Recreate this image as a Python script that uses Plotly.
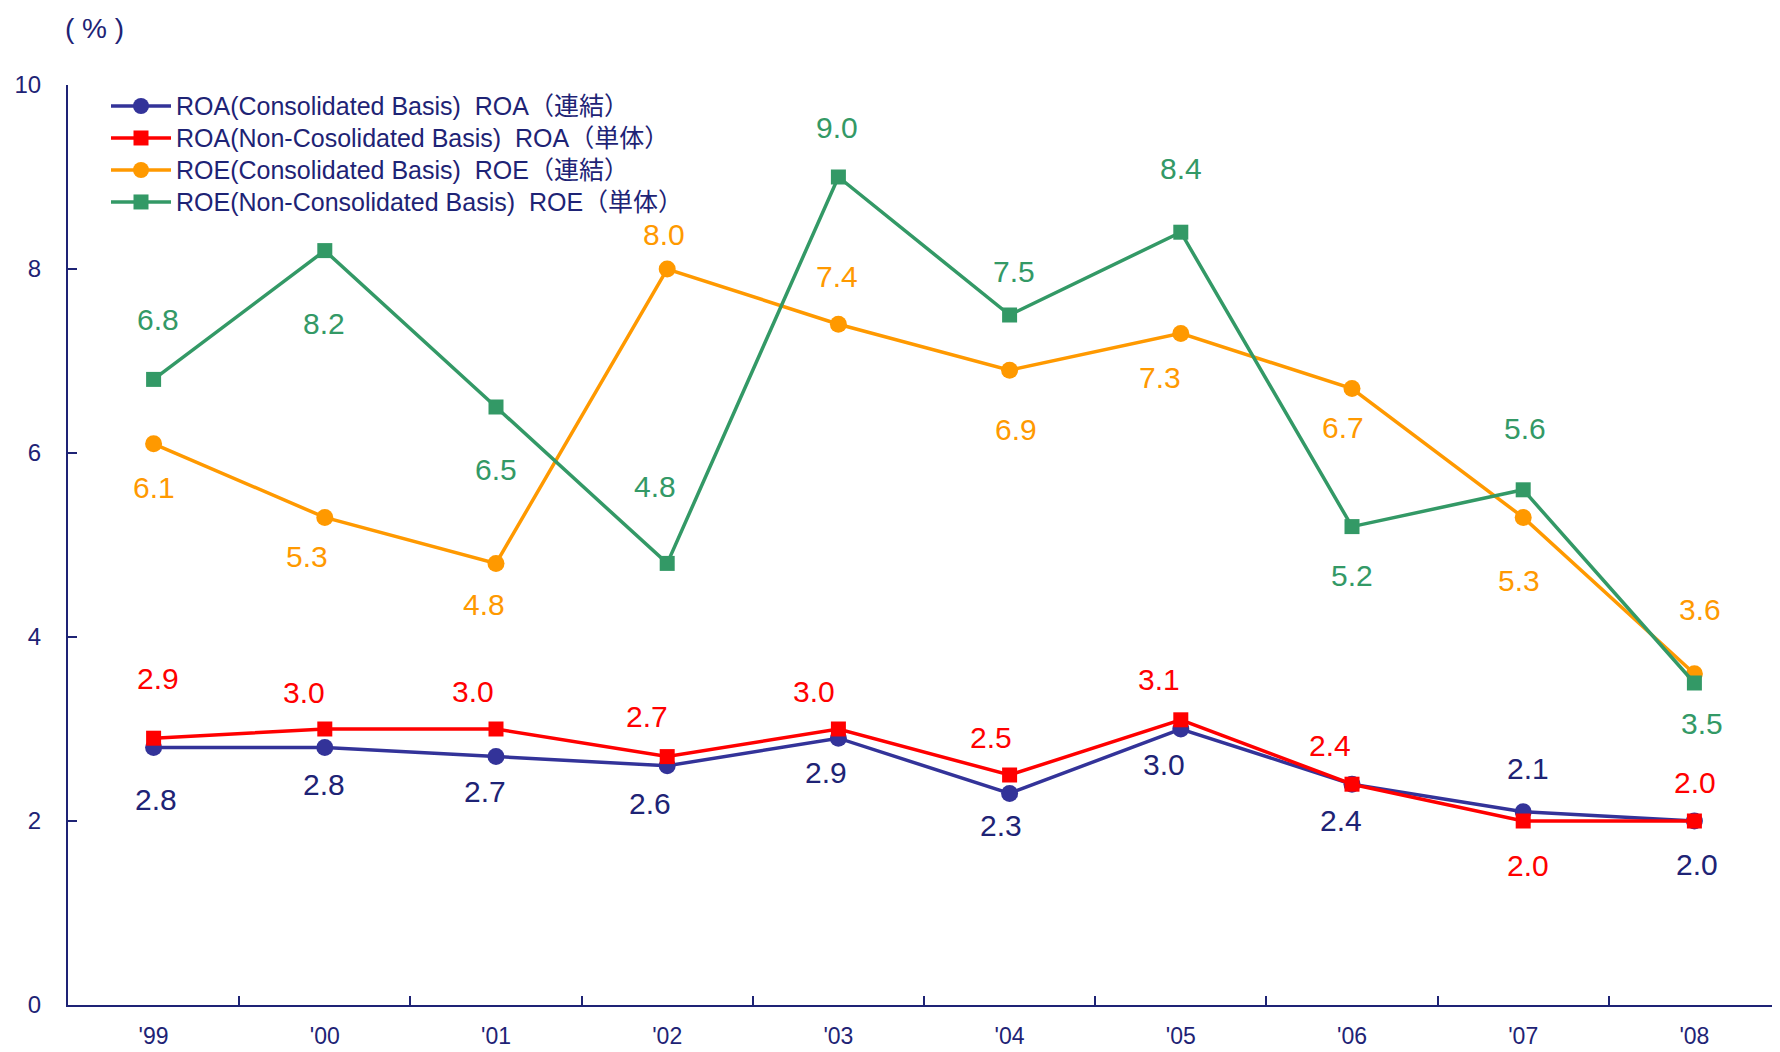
import plotly.graph_objects as go

years = ["'99", "'00", "'01", "'02", "'03", "'04", "'05", "'06", "'07", "'08"]

roa_consolidated = [2.8, 2.8, 2.7, 2.6, 2.9, 2.3, 3.0, 2.4, 2.1, 2.0]
roa_non_consolidated = [2.9, 3.0, 3.0, 2.7, 3.0, 2.5, 3.1, 2.4, 2.0, 2.0]
roe_consolidated = [6.1, 5.3, 4.8, 8.0, 7.4, 6.9, 7.3, 6.7, 5.3, 3.6]
roe_non_consolidated = [6.8, 8.2, 6.5, 4.8, 9.0, 7.5, 8.4, 5.2, 5.6, 3.5]

series_names = [
    "ROA(Consolidated Basis)\u00a0\u00a0ROA（連結）",
    "ROA(Non-Cosolidated Basis)\u00a0\u00a0ROA（単体）",
    "ROE(Consolidated Basis)\u00a0\u00a0ROE（連結）",
    "ROE(Non-Consolidated Basis)\u00a0\u00a0ROE（単体）",
]
unit_label = "( % )"

# styles
colors = ["#333399", "#FF0000", "#FF9900", "#339966"]
symbols = ["circle", "square", "circle", "square"]
marker_sizes = [17, 15, 17, 15]
TEXT = "#1E2375"
FONT = "Liberation Sans, Arial, Noto Sans CJK JP, sans-serif"

# page offset of the plot div (default body margin) and target plot-area box in page px
OFF = 8
W, H = 1780 - OFF, 1052 - OFF
PL, PR, PT, PB = 68, 1780, 85, 1005

# label pixel offsets (dx, dy) relative to each point, screen px (dy positive = up)
label_dx = [
    [2, -1, -11, -17, -12, -9, -17, -11, 5, 3],
    [4, -21, -23, -20, -24, -19, -22, -22, 5, 1],
    [0, -18, -12, -3, -1, 6, -21, -9, -4, 6],
    [4, -1, 0, -12, -1, 4, 0, 0, 2, 8],
]
label_dy = [
    [-52, -37, -35, -38, -34, -32, -35, -36, 43, -43],
    [60, 37, 38, 40, 38, 38, 40, 39, -44, 39],
    [-44, -39, -41, 35, 48, -59, -44, -39, -63, 64],
    [60, -73, -62, 77, 50, 44, 64, -49, 61, -40],
]

all_series = [roa_consolidated, roa_non_consolidated, roe_consolidated, roe_non_consolidated]

fig = go.Figure()
xs = list(range(len(years)))
for s, vals in enumerate(all_series):
    fig.add_trace(go.Scatter(
        x=xs, y=vals, mode="lines+markers",
        name='<span style="font-size:25px">' + series_names[s] + "</span>",
        line=dict(color=colors[s], width=3.5),
        marker=dict(symbol=symbols[s], size=marker_sizes[s], color=colors[s]),
    ))

annotations = []
for s, vals in enumerate(all_series):
    for i, v in enumerate(vals):
        annotations.append(dict(
            x=xs[i], y=v, xref="x", yref="y", text=f"{v:.1f}", showarrow=False,
            xshift=label_dx[s][i], yshift=label_dy[s][i],
            font=dict(family=FONT, size=30, color=colors[s] if s != 0 else TEXT),
            xanchor="center", yanchor="middle",
        ))

pw, ph = PR - PL, PB - PT
annotations.append(dict(
    x=(63 - PL) / pw, y=(PB - 29) / ph, xref="paper", yref="paper",
    text=unit_label, showarrow=False,
    font=dict(family=FONT, size=28, color=TEXT), xanchor="left", yanchor="middle",
))

fig.update_layout(
    width=W, height=H,
    margin=dict(l=PL - OFF, r=1780 - PR, t=PT - OFF, b=1052 - PB, autoexpand=False),
    paper_bgcolor="white", plot_bgcolor="white",
    font=dict(family=FONT, color=TEXT, size=24),
    showlegend=True,
    legend=dict(
        x=(106 - PL) / pw, y=(PB - 85) / ph,
        xanchor="left", yanchor="top",
        bgcolor="rgba(0,0,0,0)", font=dict(family=FONT, size=22.3, color=TEXT),
        itemwidth=60, tracegroupgap=0,
    ),
    annotations=annotations,
)
fig.update_xaxes(
    range=[-0.5, len(years) - 0.5], tickmode="array", tickvals=xs, ticktext=years,
    ticks="", showgrid=False, zeroline=False,
    showline=True, linecolor=TEXT, linewidth=2,
    tickfont=dict(family=FONT, size=23, color=TEXT),
    ticklabelstandoff=9, automargin=False,
    minor=dict(tickmode="array", tickvals=[i + 0.5 for i in xs[:-1]], ticks="inside",
               ticklen=9, tickwidth=2, tickcolor=TEXT, showgrid=False),
)
fig.update_yaxes(
    range=[0, 10], tickvals=[0, 2, 4, 6, 8, 10], ticks="inside", ticklen=9, tickwidth=2,
    tickcolor=TEXT, showgrid=False, zeroline=False,
    showline=True, linecolor=TEXT, linewidth=2,
    tickfont=dict(family=FONT, size=24, color=TEXT),
    ticklabelstandoff=20, automargin=False,
)

fig.write_html("out.html")
